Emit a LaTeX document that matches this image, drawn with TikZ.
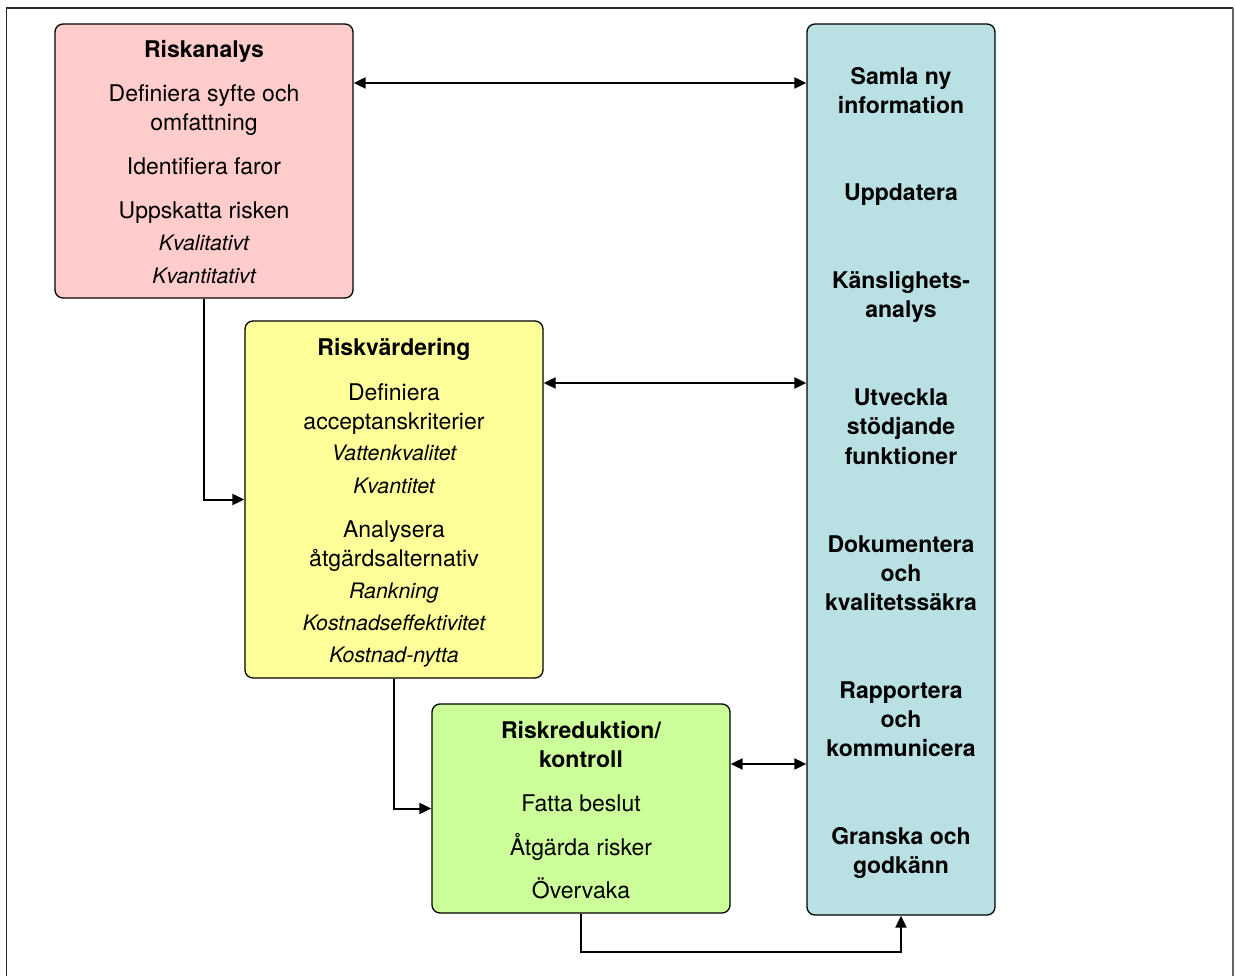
\documentclass[tikz,border=0pt]{standalone}
\usepackage{fontspec}
\setmainfont{TeX Gyre Heros}
\usetikzlibrary{arrows.meta}
\definecolor{pinkfill}{HTML}{FFCCCC}
\definecolor{yellowfill}{HTML}{FFFF99}
\definecolor{greenfill}{HTML}{CCFF99}
\definecolor{bluefill}{HTML}{B9E0E3}
\definecolor{framegray}{HTML}{666666}
\tikzset{
  box/.style={draw=black, line width=1.3pt, rounded corners=8pt, inner sep=0pt},
  reg/.style={anchor=base, inner sep=0pt, font=\fontsize{23}{27}\selectfont},
  bld/.style={anchor=base, inner sep=0pt, font=\fontsize{23}{27}\selectfont\bfseries},
  itl/.style={anchor=base, inner sep=0pt, font=\fontsize{21.3}{25}\selectfont\itshape},
  conn/.style={draw=black, line width=2pt, -{Triangle[length=12pt,width=11pt]}},
  dconn/.style={draw=black, line width=2pt, {Triangle[length=12pt,width=11pt]}-{Triangle[length=12pt,width=11pt]}},
}
\begin{document}
\begin{tikzpicture}[x=1pt,y=-1pt]
\useasboundingbox (0,0) rectangle (1235,976);
% outer frame (open at the bottom)
\draw[line width=1.4pt, black!85] (6.5,976) -- (6.5,8) -- (1233,8);
\draw[line width=2.2pt, framegray] (1233,8) -- (1233,976);

% boxes
\node[box, fill=pinkfill, minimum width=298pt, minimum height=274pt] (ra) at (204,161) {};
\node[box, fill=yellowfill, minimum width=298pt, minimum height=357pt] (rv) at (394,499.5) {};
\node[box, fill=greenfill, minimum width=298pt, minimum height=209pt] (rr) at (581,808.5) {};
\node[box, fill=bluefill, minimum width=188pt, minimum height=891pt] (col) at (901,469.5) {};

% Riskanalys
\node[bld] (ra1) at (204,58) {Riskanalys};
\node[reg] (ra2) at (204,102) {Definiera syfte och};
\node[reg] (ra3) at (204,131) {omfattning};
\node[reg] (ra4) at (204,175) {Identifiera faror};
\node[reg] (ra5) at (204,219) {Uppskatta risken};
\node[itl] (ra6) at (204,250.5) {Kvalitativt};
\node[itl] (ra7) at (204,283.5) {Kvantitativt};

% Riskvärdering
\node[bld] (rv1) at (394,356) {Riskvärdering};
\node[reg] (rv2) at (394,400) {Definiera};
\node[reg] (rv3) at (394,429) {acceptanskriterier};
\node[itl] (rv4) at (394,460.5) {Vattenkvalitet};
\node[itl] (rv5) at (394,493.5) {Kvantitet};
\node[reg] (rv6) at (394,537) {Analysera};
\node[reg] (rv7) at (394,566) {åtgärdsalternativ};
\node[itl] (rv8) at (394,598.5) {Rankning};
\node[itl] (rv9) at (394,630.5) {Kostnadseffektivitet};
\node[itl] (rv10) at (394,662.5) {Kostnad-nytta};

% Riskreduktion
\node[bld] (rr1) at (581,738) {Riskreduktion/};
\node[bld] (rr2) at (581,767) {kontroll};
\node[reg] (rr3) at (581,811) {Fatta beslut};
\node[reg] (rr4) at (581,855) {Åtgärda risker};
\node[reg] (rr5) at (581,898) {Övervaka};

% supporting column
\node[bld] (c1) at (901,85) {Samla ny};
\node[bld] (c2) at (901,114) {information};
\node[bld] (c3) at (901,201) {Uppdatera};
\node[bld] (c4) at (901,289) {Känslighets-};
\node[bld] (c5) at (901,318) {analys};
\node[bld] (c6) at (901,406) {Utveckla};
\node[bld] (c7) at (901,435) {stödjande};
\node[bld] (c8) at (901,464) {funktioner};
\node[bld] (c9) at (901,552) {Dokumentera};
\node[bld] (c10) at (901,581) {och};
\node[bld] (c11) at (901,610) {kvalitetssäkra};
\node[bld] (c12) at (901,698) {Rapportera};
\node[bld] (c13) at (901,727) {och};
\node[bld] (c14) at (901,756) {kommunicera};
\node[bld] (c15) at (901,844) {Granska och};
\node[bld] (c16) at (901,873) {godkänn};

% connectors
\draw[dconn] (ra.east |- 0,83) -- (col.west |- 0,83);
\draw[dconn] (rv.east |- 0,383) -- (col.west |- 0,383);
\draw[dconn] (rr.east |- 0,764) -- (col.west |- 0,764);
\draw[conn] (ra.south) |- (rv.west);
\draw[conn] (rv.south) |- (rr.west);
\draw[conn] (rr.south) -- (rr.south |- 0,952) -| (col.south);
\end{tikzpicture}
\end{document}
